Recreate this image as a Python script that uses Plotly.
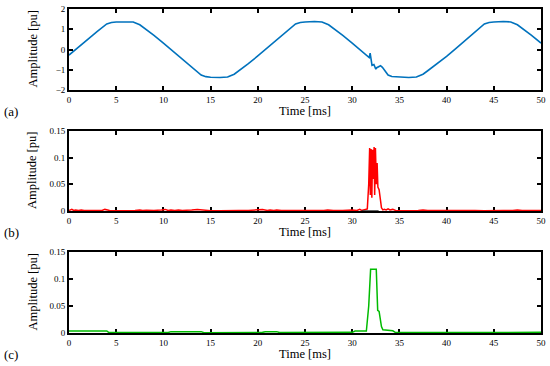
import plotly.graph_objects as go

# ---------------- data ----------------
# (a) voltage waveform
t_a = [0, 1, 2, 3, 4, 4.5, 5, 6, 6.8, 7.5, 8, 9, 10, 11, 12, 13, 14, 14.5, 15, 16, 16.8,
       17.5, 18, 19, 20, 21, 22, 23, 24, 24.5, 25, 26, 26.8, 27.5, 28, 29, 30, 31, 31.6,
       31.8, 31.9, 32.0, 32.1, 32.3, 32.5, 32.6, 32.8, 33.0, 33.2, 33.4, 33.8, 34.2, 35,
       36, 36.8, 37.5, 38, 39, 40, 41, 42, 43, 44, 44.5, 45, 46, 46.8, 47.5, 48, 49, 50]
v_a = [-0.28, 0.12, 0.52, 0.90, 1.26, 1.33, 1.36, 1.38, 1.36, 1.22, 1.05, 0.70, 0.32,
       -0.08, -0.48, -0.86, -1.26, -1.34, -1.37, -1.38, -1.36, -1.22, -1.05, -0.70, -0.32,
       0.08, 0.48, 0.86, 1.26, 1.33, 1.36, 1.38, 1.36, 1.22, 1.05, 0.70, 0.32, -0.08, -0.36,
       -0.40, -0.18, -0.62, -0.78, -0.74, -0.97, -0.90, -0.85, -0.80, -0.88, -1.02, -1.26,
       -1.33, -1.36, -1.38, -1.36, -1.22, -1.05, -0.70, -0.34, 0.06, 0.46, 0.86, 1.26, 1.33,
       1.36, 1.38, 1.36, 1.22, 1.05, 0.70, 0.32]

# (b) red detail signal
t_b = [0, 0.3, 0.5, 0.7, 1.0, 1.3, 1.6, 2.0, 2.5, 3.0, 3.5, 3.8, 4.0, 4.3, 5, 6, 7, 7.5,
       7.8, 8.2, 9, 9.8, 10.2, 10.5, 10.8, 11.2, 11.6, 12, 12.5, 13, 13.6, 14, 14.3, 15, 16,
       17, 17.5, 18, 19, 20, 20.5, 21, 21.3, 21.7, 22, 22.5, 23, 24, 25, 26, 27, 27.4, 28,
       29, 30, 30.5, 30.8, 31, 31.3, 31.6, 31.75, 31.85, 31.92, 32.0, 32.08, 32.16, 32.24,
       32.32, 32.38, 32.46, 32.56, 32.64, 32.72, 32.85, 33.0, 33.1, 33.25, 33.4, 33.6, 33.8,
       34.0, 34.3, 34.6, 35, 36, 37, 37.5, 38, 39, 40, 41, 41.5, 42, 43, 44, 45, 45.5, 46,
       47, 47.5, 48, 49, 50]
v_b = [0.001, 0.003, 0.001, 0.002, 0.001, 0.002, 0.001, 0.001, 0.002, 0.001, 0.001, 0.003,
       0.002, 0.001, 0.0005, 0.0005, 0.001, 0.002, 0.001, 0.0015, 0.001, 0.002, 0.003, 0.001,
       0.002, 0.001, 0.002, 0.001, 0.001, 0.002, 0.003, 0.002, 0.001, 0.0005, 0.0005, 0.001,
       0.002, 0.001, 0.001, 0.002, 0.003, 0.001, 0.002, 0.001, 0.002, 0.001, 0.001, 0.0005,
       0.0005, 0.001, 0.001, 0.002, 0.001, 0.001, 0.002, 0.001, 0.003, 0.001, 0.002, 0.004,
       0.05, 0.118, 0.03, 0.116, 0.025, 0.115, 0.06, 0.12, 0.03, 0.118, 0.05, 0.09, 0.045,
       0.04, 0.02, 0.006, 0.002, 0.003, 0.002, 0.004, 0.002, 0.003, 0.001, 0.0005, 0.0005,
       0.001, 0.002, 0.001, 0.001, 0.001, 0.002, 0.001, 0.001, 0.001, 0.0005, 0.001, 0.002,
       0.001, 0.001, 0.002, 0.001, 0.001, 0.001]

# (b) black reference segment
t_k = [31.0, 32.8]
v_k = [0.0, 0.0]

# (c) green filtered signal
t_c = [0, 4, 4.2, 7.2, 7.5, 10.5, 10.8, 14, 14.3, 17, 17.3, 20.5, 20.8, 22, 22.3, 27,
       27.3, 30, 30.3, 31.5, 31.75, 31.95, 32.55, 32.7, 32.85, 33.1, 33.25, 34.3, 34.6,
       37, 37.3, 41, 41.3, 45, 45.3, 50]
v_c = [0.0037, 0.0037, 0.0012, 0.0012, 0.0008, 0.0008, 0.0025, 0.0025, 0.0006, 0.0006,
       0.0012, 0.0012, 0.0025, 0.0025, 0.0008, 0.0008, 0.0012, 0.0012, 0.0035, 0.0035,
       0.05, 0.118, 0.118, 0.042, 0.040, 0.012, 0.006, 0.004, 0.0008, 0.0008, 0.0015, 0.0015,
       0.0008, 0.0008, 0.0012, 0.0012]

x_ticks = [0, 5, 10, 15, 20, 25, 30, 35, 40, 45, 50]
y_ticks_a = [-2, -1, 0, 1, 2]
y_ticks_bc = [0, 0.05, 0.1, 0.15]
y_tick_text_bc = ["0", "0.05", "0.1", "0.15"]
panel_labels = ["(a)", "(b)", "(c)"]

# ---------------- figure ----------------
W, H = 550, 366
FONT = "'Liberation Serif', 'DejaVu Serif', serif"

def px_x(p):
    return p / W

def px_y(p):
    return 1 - p / H

x0, x1 = px_x(69), px_x(541)
rows = [(9, 90), (131, 211), (252, 333)]  # pixel top/bottom of each panel
doms = [[px_y(b), px_y(t)] for t, b in rows]

fig = go.Figure()
fig.add_trace(go.Scatter(x=t_a, y=v_a, mode="lines", line=dict(color="#0072BD", width=1.6),
                         xaxis="x", yaxis="y", showlegend=False))
fig.add_trace(go.Scatter(x=t_b, y=v_b, mode="lines", line=dict(color="#FF0000", width=1.5),
                         xaxis="x2", yaxis="y2", showlegend=False))
fig.add_trace(go.Scatter(x=t_k, y=v_k, mode="lines", line=dict(color="#333333", width=1.5),
                         xaxis="x2", yaxis="y2", showlegend=False))
fig.add_trace(go.Scatter(x=t_c, y=v_c, mode="lines", line=dict(color="#00BB00", width=1.5),
                         xaxis="x3", yaxis="y3", showlegend=False))

axis_common = dict(showline=True, linecolor="black", linewidth=1.8, mirror="allticks",
                   ticks="inside", ticklen=4, tickwidth=1.5, tickcolor="black",
                   showgrid=False, zeroline=False, automargin=False,
                   tickfont=dict(family=FONT, size=9, color="black"))

layout = dict(width=W, height=H, margin=dict(l=0, r=0, t=0, b=0, pad=0),
              paper_bgcolor="white", plot_bgcolor="white", showlegend=False,
              font=dict(family=FONT, color="black"))

annotations = []
for i, (dom, (pt, pb)) in enumerate(zip(doms, rows)):
    sfx = "" if i == 0 else str(i + 1)
    layout["xaxis" + sfx] = dict(axis_common, domain=[x0, x1], range=[0, 50],
                                 tickvals=x_ticks, anchor="y" + sfx,
                                 layer="above traces" if i == 0 else "below traces")
    if i == 0:
        layout["yaxis" + sfx] = dict(axis_common, domain=dom, range=[-2, 2],
                                     tickvals=y_ticks_a, anchor="x" + sfx)
    else:
        layout["yaxis" + sfx] = dict(axis_common, domain=dom, range=[0, 0.15],
                                     tickvals=y_ticks_bc, ticktext=y_tick_text_bc,
                                     anchor="x" + sfx, layer="below traces")
    # x title
    annotations.append(dict(text="Time [ms]", xref="paper", yref="paper",
                            x=(x0 + x1) / 2, y=px_y(pb + 21), showarrow=False,
                            font=dict(family=FONT, size=12.5), xanchor="center",
                            yanchor="middle"))
    # y title
    annotations.append(dict(text="Amplitude [pu]", xref="paper", yref="paper",
                            x=px_x(32), y=(dom[0] + dom[1]) / 2, showarrow=False,
                            textangle=-90, font=dict(family=FONT, size=12.5),
                            xanchor="center", yanchor="middle"))
    # panel label
    annotations.append(dict(text=panel_labels[i], xref="paper", yref="paper",
                            x=px_x(11), y=px_y(pb + 21), showarrow=False,
                            font=dict(family=FONT, size=13), xanchor="center",
                            yanchor="middle"))

layout["annotations"] = annotations
fig.update_layout(**layout)
fig.write_html("out.html",
               config={"displayModeBar": False},
               post_script="document.body.style.margin='0';"
                           "document.body.style.overflow='hidden';")
